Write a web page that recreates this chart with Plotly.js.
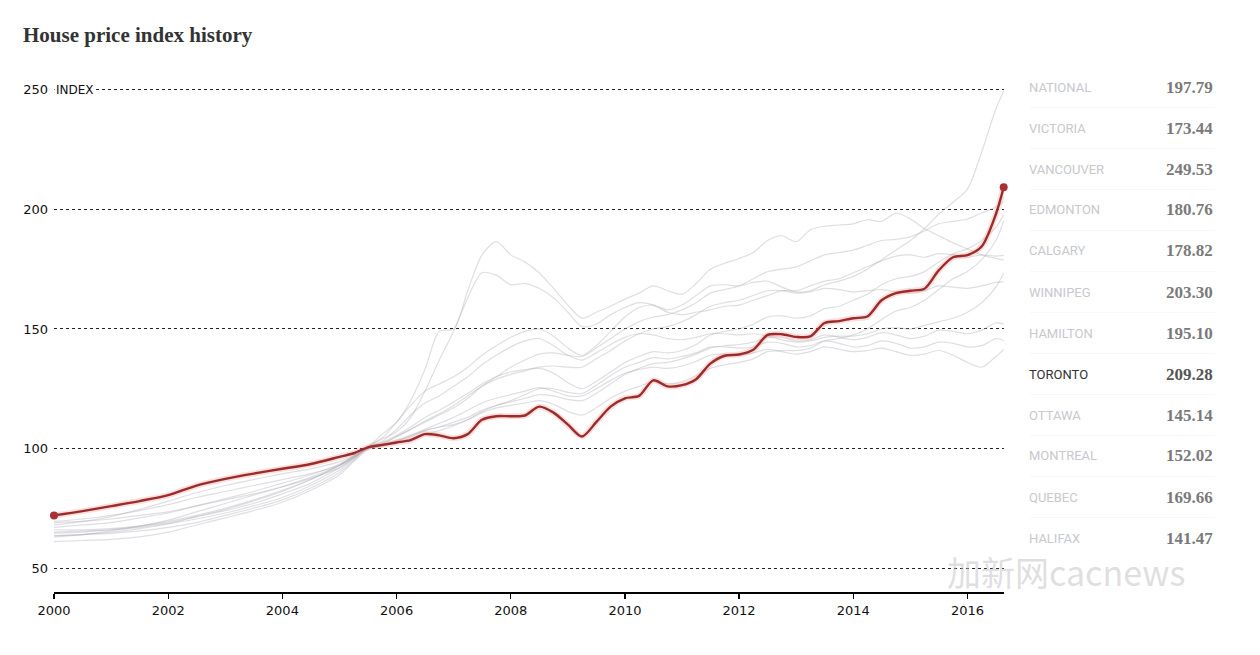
<!DOCTYPE html>
<html>
<head>
<meta charset="utf-8">
<script src="https://cdn.plot.ly/plotly-3.0.1.min.js"></script>
<style>
html,body{margin:0;padding:0;background:#fff;}
#chart{width:1260px;height:655px;}
</style>
</head>
<body>
<div id="chart"></div>
<script>
// ---- data ----
const dates = ['2000-01-01','2000-07-01','2001-01-01','2001-07-01','2002-01-01','2002-07-01','2003-01-01','2003-07-01','2004-01-01','2004-07-01','2005-01-01',
'2005-04-01','2005-07-01','2005-10-01',
'2006-01-01','2006-04-01','2006-07-01','2006-10-01',
'2007-01-01','2007-04-01','2007-07-01','2007-10-01',
'2008-01-01','2008-04-01','2008-07-01','2008-10-01',
'2009-01-01','2009-04-01','2009-07-01','2009-10-01',
'2010-01-01','2010-04-01','2010-07-01','2010-10-01',
'2011-01-01','2011-04-01','2011-07-01','2011-10-01',
'2012-01-01','2012-04-01','2012-07-01','2012-10-01',
'2013-01-01','2013-04-01','2013-07-01','2013-10-01',
'2014-01-01','2014-04-01','2014-07-01','2014-10-01',
'2015-01-01','2015-04-01','2015-07-01','2015-10-01',
'2016-01-01','2016-04-01','2016-07-01','2016-08-20'];

const toronto = [72,73.8,75.9,78,80.5,84.5,87.3,89.5,91.5,93.5,96.5,98,100.5,101.5,102.5,103.5,106,105.5,104.3,106,112,113.5,113.5,113.8,117.5,115,110,105,111,117.5,121,122,128.5,126,126.5,129,135.5,138.8,139.3,141.3,147.5,147.8,146.7,146.9,152.5,153.3,154.5,155.2,162,165,166,166.8,174.5,180,180.9,184.5,198,209.28];

const calgary = [64.5,65,66,67,68.5,70.5,73,76,79.5,84.5,91,95.5,100.5,
106,111,120,133,149,150,166,181,186.5,181,178,173.5,167,160,154.5,
157,159.5,162.5,165,168,166,164.5,169,175,177.5,179.5,182,187,189,186.5,191.5,193,193.5,194,195.7,195,198.5,196,192,189,186,183.5,181,179.5,178.82];

const edmonton = [63.5,64,64.5,65.5,67,69,72,75,78.5,83.5,90,95,100.5,
104,107,113,124,137,149,163,173.5,172.5,168.5,169,167,163,157,151,
152,156,159,161,160,157,156,157,158,159.5,160,162,164,166,166,168,170,171,173.5,176,178.5,180.5,181,180,181.5,181,180,181,180.5,180.76];

const vancouver = [66,66,66.5,67.5,69,71.5,74,77,81,85.5,92,96,101,
104.5,111,118,124,127,130,134,139,143,146.5,149,150,147,142,139,
143,149,155,159,160,158,160,164,168,168.5,168,169.5,170,167.5,165.5,166,168.5,170,172,175,179,183,187,192,198,203,208.5,224,242,249.53];

const victoria = [65,65.5,66,67.5,69.5,72,75,78.5,82.5,87,93,97,100.5,
103,108,114,119,122,126,130,135,139,142.5,145,146,143,139,137,
140,143.5,146.5,148,147.5,146,145.5,146.5,148,148,147.5,148,147,145.5,144.5,145,146.5,147,147,148,150,150.5,150,151.5,153,154.5,157,161,167.5,173.44];

const winnipeg = [61,61.5,62,63,65,68,71,74,77.5,82.5,89,94.5,99.5,
102,105,108,111,114,117,121,126,130,134,137,139.5,140,139,138.5,
142,146,150,153,155,156,158,161,165,166.5,168,171,174,175,176,178.5,181,182,183,185,187,187.5,188.5,191,194,195,196,198.5,201,203.3];

const hamilton = [69.5,70.5,72,74,76.5,79.5,82,84.5,87,89.5,93,96,100,
101,103,105,107.5,109,110,112,115,117,118,119,120,118.5,115.5,114,
117,121,124,126,128,127,128,130.5,133.5,135,136,137.5,140.5,141,141,142,145,146,147.5,150,154,157.5,159,162,166.5,171,174,179,187,195.1];

const quebec = [63.5,64,65,66.5,68.5,71.5,74.5,78,82,87,93,96.5,100,
102,105,108,111.5,114.5,118,122,126,129,131,132.5,134,134.5,134,134,
137.5,141,145,148,150,151,153,156,159.5,161,162,164,166,166,165,165.5,167,166.5,165.5,166,166.5,165.5,165,166,168,167.5,167,168,169.5,169.66];

const national = [67,68,69,71,73,76,79,82,85.5,89,93.5,96.5,100,
102.5,105.5,109,113,116,119.5,123,127,130,132,133,133.5,131.5,127.5,125,
128,132,136,138.5,140.5,140,141,143.5,147.5,149,150,152,155,155.5,154.5,155.5,158.5,159.5,162,164.5,168.5,171,172,174,178,181.5,183.5,187,192.5,197.79];

const montreal = [63,64,65.5,67.5,70,73.5,77,80.5,84,88,93,96.5,100,
101.5,103.5,105.5,107.5,109,111,113,116,118,119.5,121,122.5,122,120.5,120,
123,127,131,133.5,135.5,136,137.5,139.5,142,143,143.5,144.5,146.5,146.5,145,145.5,147.5,146.5,145.5,146.5,148.5,147.5,146,147,149.5,149,148,149.5,152.5,152.02];

const ottawa = [68,69.5,71.5,74.5,78,81.5,84.5,87,89.5,91.5,94.5,97,100,
101,102.5,104,106,107.5,109.5,112,115.5,118,120,122.5,125,125,123.5,123,
126.5,130.5,134,136,138,137.5,138.5,140,142.5,142.5,142,142.5,144.5,144,142.5,143,145,144,142.5,143,145,144,142,142.5,144.5,144,142.5,143,146,145.14];

const halifax = [69,69.5,70.5,72,73.5,76,78.5,81,84,87.5,92,96,100,
101,103,105.5,108,110.5,113,116,119,121,122.5,124,125.5,124,122,122,
125,128.5,131.5,133,134,133.5,134.5,136.5,139,139.5,139,140,141.5,140.5,139.5,140.5,142.5,141.5,140.5,141,142,140.5,139,139.5,141,139,136,134,138.5,141.47];

const cities = ['NATIONAL','VICTORIA','VANCOUVER','EDMONTON','CALGARY','WINNIPEG','HAMILTON','TORONTO','OTTAWA','MONTREAL','QUEBEC','HALIFAX'];
const citySeries = [national, victoria, vancouver, edmonton, calgary, winnipeg, hamilton, toronto, ottawa, montreal, quebec, halifax];
const highlight = 'TORONTO';

const yTicks = [50, 100, 150, 200, 250];
const xTickYears = ['2000-01-01','2002-01-01','2004-01-01','2006-01-01','2008-01-01','2010-01-01','2012-01-01','2014-01-01','2016-01-01'];
const xTickText = ['2000','2002','2004','2006','2008','2010','2012','2014','2016'];

// ---- geometry helpers ----
const L = 54, R = 1004, T = 83, B = 592;
const px2x = p => (p - L) / (R - L);
const px2y = p => (B - p) / (B - T);

// ---- traces ----
const traces = [];
cities.forEach((c, i) => {
  if (c === highlight) return;
  traces.push({
    x: dates, y: citySeries[i], type: 'scatter', mode: 'lines',
    line: {color: 'rgba(170,170,182,0.38)', width: 1.2, shape: 'spline', smoothing: 0.8},
    hoverinfo: 'skip', showlegend: false
  });
});
const hi = citySeries[cities.indexOf(highlight)];
traces.push({
  x: dates, y: hi, type: 'scatter', mode: 'lines',
  line: {color: 'rgba(240,140,130,0.28)', width: 6, shape: 'spline', smoothing: 0.8},
  hoverinfo: 'skip', showlegend: false
});
traces.push({
  x: dates, y: hi, type: 'scatter', mode: 'lines',
  line: {color: '#9c2b2b', width: 2.4, shape: 'spline', smoothing: 0.8},
  hoverinfo: 'skip', showlegend: false
});
traces.push({
  x: [dates[0], dates[dates.length - 1]], y: [hi[0], hi[hi.length - 1]],
  type: 'scatter', mode: 'markers', cliponaxis: false,
  marker: {color: '#ab3036', size: 8},
  hoverinfo: 'skip', showlegend: false
});

// ---- annotations (side table) ----
const annotations = [];
const shapes = [];
cities.forEach((c, i) => {
  const ypx = 87 + 41 * i;
  const isHi = c === highlight;
  const s = citySeries[i];
  annotations.push({
    xref: 'paper', yref: 'paper', x: px2x(1027), y: px2y(ypx),
    xanchor: 'left', yanchor: 'middle', showarrow: false, text: c,
    font: {family: 'Roboto, sans-serif', size: 13, color: isHi ? '#333333' : '#c8c8ce'}
  });
  annotations.push({
    xref: 'paper', yref: 'paper', x: px2x(1215), y: px2y(ypx),
    xanchor: 'right', yanchor: 'middle', showarrow: false, text: s[s.length - 1].toFixed(2),
    font: {family: 'Liberation Serif, serif', size: 17, color: isHi ? '#555555' : '#7a7a7a', weight: 700}
  });
  if (i < cities.length - 1) {
    shapes.push({
      type: 'line', xref: 'paper', yref: 'paper',
      x0: px2x(1030), x1: px2x(1215), y0: px2y(ypx + 20.5), y1: px2y(ypx + 20.5),
      line: {color: '#f8f8fa', width: 1}
    });
  }
});
annotations.push({
  xref: 'paper', yref: 'y', x: 0, y: 250, xanchor: 'left', yanchor: 'middle',
  showarrow: false, text: 'INDEX', bgcolor: '#ffffff', borderpad: 1,
  font: {family: 'DejaVu Sans, sans-serif', size: 12, color: '#111111'}
});
annotations.push({
  xref: 'paper', yref: 'paper', x: px2x(1066), y: px2y(571),
  xanchor: 'center', yanchor: 'middle', showarrow: false, text: '加新网cacnews',
  font: {family: 'Noto Sans CJK SC, sans-serif', size: 34, color: 'rgba(195,195,200,0.55)'}
});

const layout = {
  width: 1260, height: 655,
  margin: {l: L, r: 1260 - R, t: T, b: 655 - B},
  paper_bgcolor: '#ffffff', plot_bgcolor: '#ffffff',
  title: {
    text: 'House price index history', x: 23 / 1260, xanchor: 'left', xref: 'container',
    y: 1 - 35 / 655, yanchor: 'middle', yref: 'container',
    font: {family: 'Liberation Serif, serif', size: 21, color: '#333333', weight: 700}
  },
  xaxis: {
    type: 'date', range: ['2000-01-01', '2016-08-22'],
    tickvals: xTickYears, ticktext: xTickText,
    showgrid: false, zeroline: false,
    showline: true, linecolor: '#000000', linewidth: 2,
    ticks: 'outside', ticklen: 5, tickwidth: 1.5, tickcolor: '#000000',
    tickfont: {family: 'DejaVu Sans, sans-serif', size: 13, color: '#111111'},
    fixedrange: true
  },
  yaxis: {
    range: [39.96, 252.9], tickvals: yTicks, ticktext: yTicks.map(String),
    showgrid: true, gridcolor: '#222222', gridwidth: 1, griddash: 'dot',
    zeroline: false, showline: false, ticks: '', ticklabelstandoff: 5,
    tickfont: {family: 'DejaVu Sans, sans-serif', size: 13, color: '#111111'},
    fixedrange: true
  },
  annotations: annotations,
  shapes: shapes,
  hovermode: false,
  showlegend: false
};

Plotly.newPlot('chart', traces, layout, {displayModeBar: false, staticPlot: true});
</script>
</body>
</html>
